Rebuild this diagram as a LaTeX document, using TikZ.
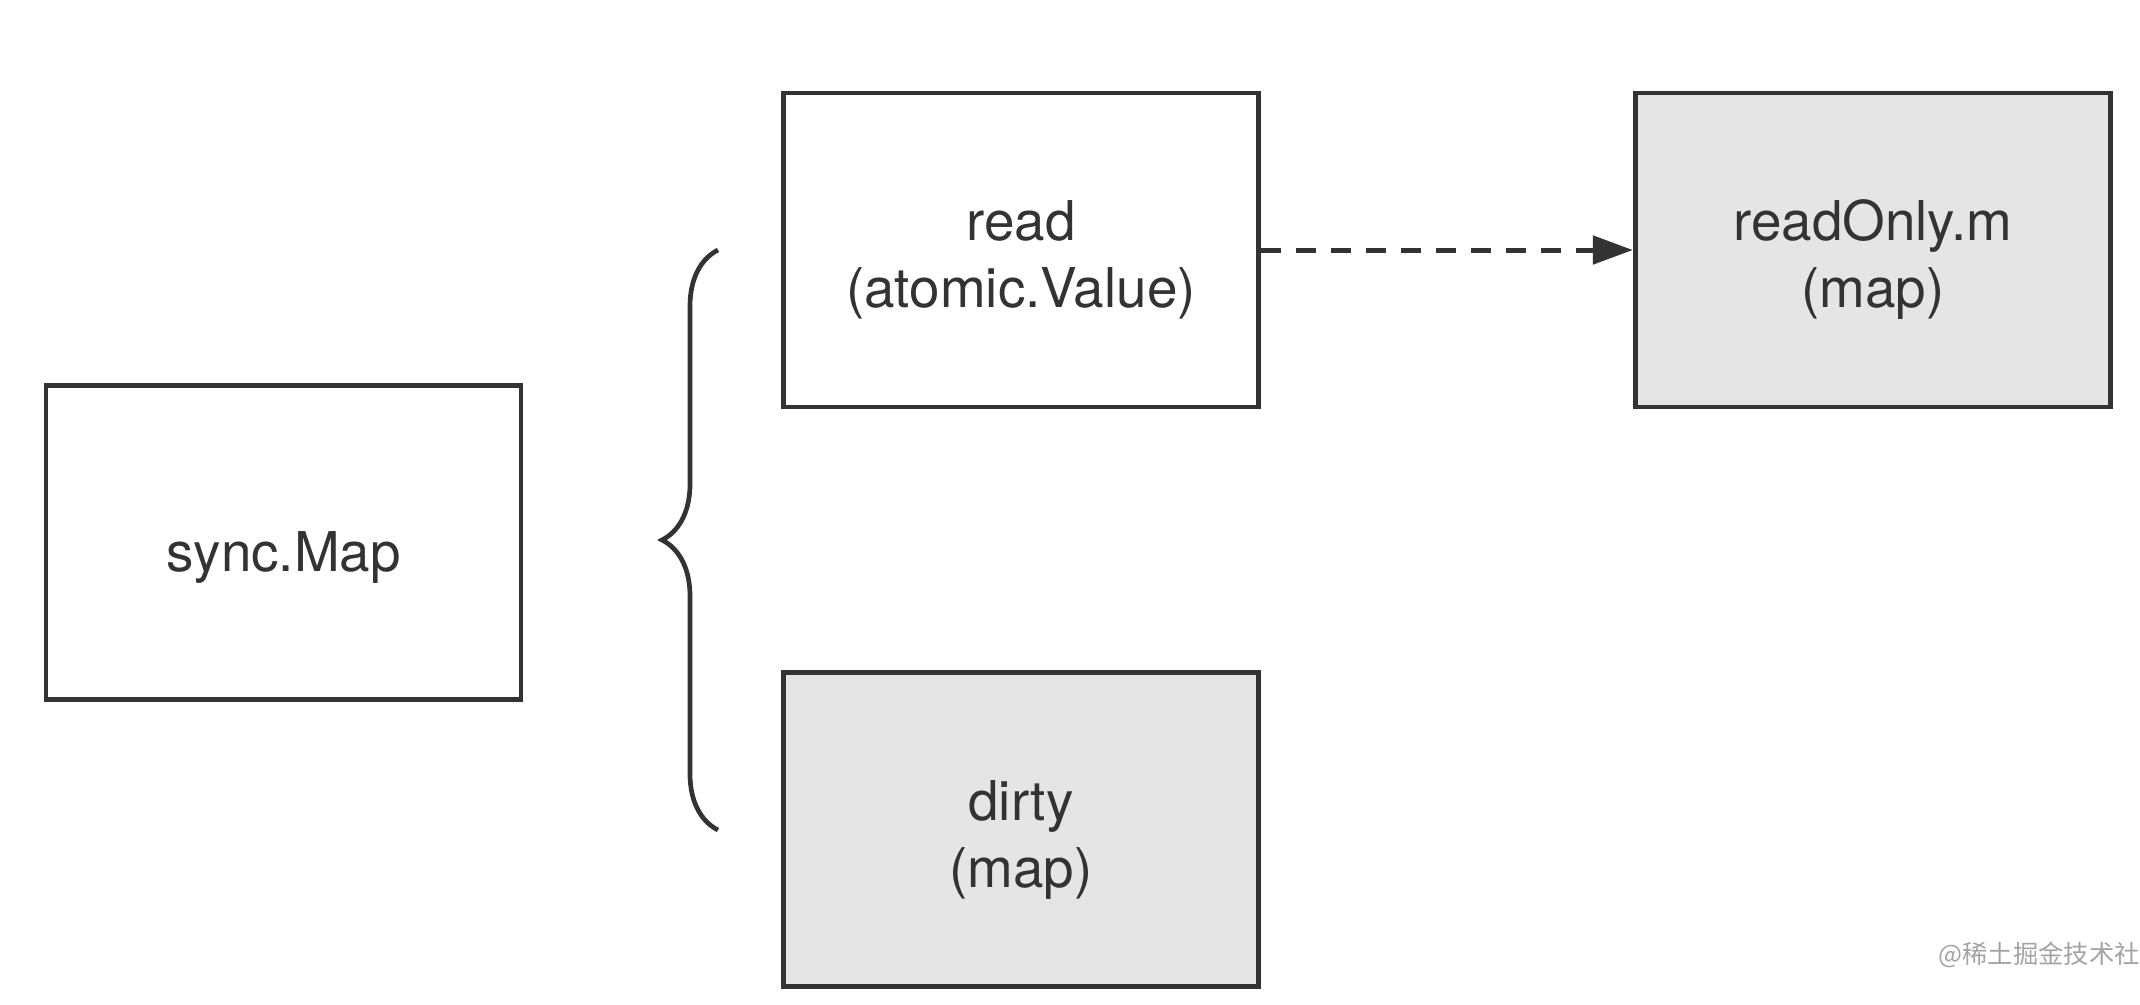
\documentclass[tikz,border=0pt]{standalone}
\usepackage{fontspec}
\setmainfont{TeX Gyre Heros}
\newfontfamily\cjk{Noto Sans CJK SC}
\usepackage{xcolor}
\definecolor{ink}{HTML}{333333}
\definecolor{shade}{HTML}{E5E5E5}
\definecolor{stamp}{HTML}{A3A3A3}
\usetikzlibrary{arrows.meta,positioning,decorations.pathreplacing}
\tikzset{
    node distance = 2.61cm and 3.72cm,
    box/.style = {rectangle, draw=ink, text=ink, line width=0.047cm, minimum width=4.75cm, minimum height=3.14cm,
                  align=center, text height=36pt, font=\fontsize{15.6}{19}\selectfont},
    filled/.style = {box, fill=shade},
    ref/.style = {ink, line width=0.05cm, dash pattern=on 0.2cm off 0.15cm,
                  -{Triangle[length=0.4cm,width=0.28cm]}},
    curly/.style = {ink, line width=0.047cm, decorate, decoration={brace, amplitude=0.56cm}}
}

\begin{document}
\begin{tikzpicture}
      \useasboundingbox (0,0) rectangle (21.4,-10.04);

      \node[box, text height=20pt] (sync) at (2.835,-5.425) {sync.Map};
      \node[box] (read) at (10.21,-2.50) {read\\(atomic.Value)};
      \node[filled, right=of read] (ro) {readOnly.m\\(map)};
      \node[filled, below=of read] (dirty) {dirty\\(map)};

      \coordinate (bt) at (7.18,-2.50);
      \coordinate (bb) at (7.18,-8.30);
      \draw[curly] (bb) -- (bt);

      \path[ref] (read) edge (ro);

      \node[anchor=base west, inner sep=0pt, text=stamp, font=\cjk\fontsize{7.2}{9}\selectfont] (mark) at (19.38,-9.63) {@稀土掘金技术社};
\end{tikzpicture}
\end{document}
